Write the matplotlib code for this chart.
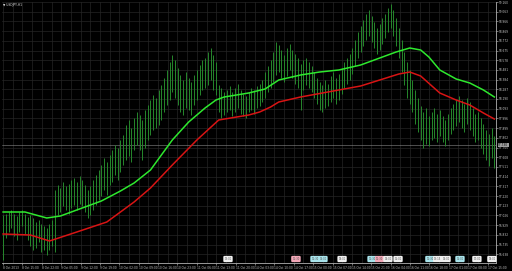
import matplotlib
matplotlib.use('Agg')
import matplotlib.pyplot as plt
import numpy as np

# USDJPY H1 - bar highs/lows
highs = [
    97.03, 97.04, 97.06, 97.08, 97.04, 97.02, 97.06, 97.08, 97.04, 97.01,
    97.03, 97.00, 96.96, 96.98, 96.94, 96.92, 96.90, 96.94, 96.98, 97.28,
    97.33, 97.30, 97.36, 97.32, 97.34, 97.38, 97.40, 97.36, 97.42, 97.38,
    97.33, 97.28, 97.32, 97.38, 97.43, 97.48, 97.53, 97.60, 97.56, 97.63,
    97.68, 97.73, 97.70, 97.78, 97.83, 97.93, 97.98, 97.90, 98.00, 98.06,
    98.03, 97.98, 98.08, 98.13, 98.18, 98.23, 98.20, 98.28, 98.33, 98.40,
    98.48, 98.56, 98.63, 98.58, 98.50, 98.43, 98.38, 98.46, 98.40, 98.36,
    98.43, 98.48, 98.53, 98.58, 98.60, 98.66, 98.70, 98.63, 98.56, 98.33,
    98.30, 98.26, 98.28, 98.32, 98.26, 98.30, 98.34, 98.28, 98.24, 98.22,
    98.26, 98.30, 98.28, 98.32, 98.34, 98.38, 98.46, 98.52, 98.58, 98.66,
    98.76, 98.73, 98.68, 98.63, 98.70, 98.74, 98.68, 98.64, 98.60, 98.54,
    98.58, 98.60, 98.56, 98.52, 98.46, 98.40, 98.36, 98.33, 98.38, 98.34,
    98.42, 98.46, 98.40, 98.44, 98.50, 98.56, 98.60, 98.64, 98.70, 98.78,
    98.86, 98.92, 98.98, 99.04, 99.08, 99.02, 98.96, 98.90, 98.94, 99.00,
    99.04, 99.10, 99.14, 99.08, 99.00, 98.90, 98.78, 98.66, 98.56, 98.48,
    98.38, 98.28, 98.20, 98.12, 98.06, 98.10, 98.02, 98.06, 98.10, 98.04,
    98.08, 98.02, 97.98, 98.04, 98.10, 98.14, 98.18, 98.22, 98.18, 98.14,
    98.20, 98.16, 98.10, 98.04, 98.06, 98.00, 97.94, 97.88, 97.84, 97.90,
    97.82,
]
lows = [
    96.58, 96.80, 96.86, 96.90, 96.82, 96.78, 96.86, 96.92, 96.84, 96.78,
    96.72, 96.68, 96.70, 96.76, 96.66, 96.68, 96.63, 96.68, 96.72, 96.66,
    97.03, 97.06, 97.12, 97.08, 97.04, 97.10, 97.13, 97.08, 97.14, 97.12,
    97.06, 97.00, 97.03, 97.08, 97.13, 97.18, 97.22, 97.28, 97.23, 97.33,
    97.36, 97.43, 97.38, 97.46, 97.53, 97.58, 97.62, 97.56, 97.68, 97.73,
    97.68, 97.58, 97.70, 97.78, 97.83, 97.88, 97.90, 97.93, 97.98, 98.06,
    98.13, 98.18, 98.26, 98.20, 98.13, 98.06, 98.03, 98.10, 98.08, 98.03,
    98.13, 98.18, 98.23, 98.28, 98.30, 98.33, 98.38, 98.28, 98.23, 98.06,
    98.00, 98.03, 98.06, 98.08, 98.02, 98.06, 98.10, 98.04, 98.02, 98.00,
    98.06, 98.08, 98.04, 98.10, 98.12, 98.16, 98.20, 98.26, 98.30, 98.36,
    98.43, 98.46, 98.40, 98.36, 98.42, 98.48, 98.40, 98.34, 98.30, 98.08,
    98.28, 98.33, 98.30, 98.26, 98.20, 98.14, 98.08, 98.06, 98.10, 98.12,
    98.16, 98.20, 98.14, 98.18, 98.24, 98.30, 98.34, 98.38, 98.44, 98.52,
    98.60, 98.66, 98.72, 98.78, 98.82, 98.76, 98.70, 98.64, 98.68, 98.74,
    98.80, 98.86, 98.90, 98.82, 98.72, 98.60, 98.46, 98.33, 98.20, 98.14,
    98.06, 97.94, 97.86, 97.78, 97.70, 97.74, 97.72, 97.78, 97.80, 97.76,
    97.82, 97.76, 97.72, 97.78, 97.84, 97.88, 97.92, 97.96, 97.90, 97.86,
    97.94, 97.88, 97.82, 97.76, 97.78, 97.70, 97.64, 97.58, 97.52, 97.60,
    97.50,
]

# moving averages (green fast, red slow), sampled at bar indices
ma_idx = [0, 8, 16, 21, 28, 36, 43, 48, 54, 62, 68, 74, 78, 81, 90, 96, 101,
          109, 116, 123, 131, 138, 144, 149, 153, 156, 160, 166, 171, 176, 180]
ma_green = [97.06, 97.06, 97.00, 97.02, 97.09, 97.17, 97.27, 97.35, 97.48,
            97.78, 97.96, 98.10, 98.18, 98.21, 98.25, 98.29, 98.38, 98.43,
            98.46, 98.48, 98.53, 98.60, 98.66, 98.70, 98.68, 98.61, 98.48,
            98.39, 98.35, 98.28, 98.21]
red_idx = [0, 10, 17, 27, 38, 48, 54, 62, 71, 79, 90, 94, 98, 101, 109, 123,
           131, 138, 145, 149, 153, 160, 166, 171, 176, 180]
ma_red = [96.84, 96.83, 96.77, 96.86, 96.96, 97.16, 97.30, 97.53, 97.78,
          97.98, 98.03, 98.06, 98.11, 98.16, 98.21, 98.28, 98.32, 98.38,
          98.44, 98.46, 98.42, 98.25, 98.18, 98.13, 98.05, 97.99]

bid_price = 97.73

price_labels = ['99.160', '99.063', '98.966', '98.869', '98.772', '98.675',
                '98.578', '98.481', '98.384', '98.287', '98.190', '98.093',
                '97.996', '97.899', '97.802', '97.705', '97.608', '97.511',
                '97.414', '97.317', '97.220', '97.123', '97.026', '96.929',
                '96.832', '96.735', '96.638']
time_labels = ['8 Oct 2013', '8 Oct 15:00', '8 Oct 22:00', '9 Oct 05:00',
               '9 Oct 12:00', '9 Oct 19:00', '10 Oct 02:00', '10 Oct 09:00',
               '10 Oct 16:00', '10 Oct 23:00', '11 Oct 06:00', '11 Oct 13:00',
               '11 Oct 20:00', '14 Oct 03:00', '14 Oct 10:00', '14 Oct 17:00',
               '15 Oct 00:00', '15 Oct 07:00', '15 Oct 14:00', '15 Oct 21:00',
               '16 Oct 04:00', '16 Oct 11:00', '16 Oct 18:00', '17 Oct 01:00',
               '17 Oct 08:00', '17 Oct 15:00']

# calendar event flags along the bottom
event_idx = [82.4, 107.3, 114.3, 117.2, 124.2, 135.2, 138.0, 141.0, 144.7,
             156.4, 159.3, 162.3, 167.4, 173.6, 179.1]
event_col = ['#f0f0f0', '#f4a8b8', '#a8e4ec', '#a8e4ec', '#f0f0f0',
             '#a8e4ec', '#f4a8b8', '#f0f0f0', '#f0f0f0', '#a8e4ec',
             '#f0f0f0', '#f0f0f0', '#a8e4ec', '#f0f0f0', '#f0f0f0']
event_txt = ['13:00', '12:30', '12:30', '14:00', '18:00', '12:30', '12:30',
             '14:00', '15:00', '12:30', '13:15', '14:00', '15:00', '17:00',
             '18:00']

W, H = 512, 271
fig = plt.figure(figsize=(W / 100, H / 100), dpi=100, facecolor='black')
ax = fig.add_axes([2 / W, 8 / H, 494 / W, 261 / H], facecolor='black')

bars = np.arange(len(highs))
ax.set_xlim(-0.4, 180.6)
ax.set_ylim(96.55, 99.16)

# faint grid, as in the terminal
ytick_vals = [float(v) for v in price_labels]
for v in ytick_vals:
    ax.axhline(v, color='#252525', lw=0.5, zorder=0)
for k in range(len(time_labels) * 2):
    ax.axvline(k * 3.55, color='#252525', lw=0.5, zorder=0)

ax.vlines(bars, lows, highs, color='#26882c', lw=0.7, zorder=2)
ax.plot(ma_idx, ma_green, color='#2ee82e', lw=1.1, zorder=3)
ax.plot(red_idx, ma_red, color='#d81414', lw=1.1, zorder=3)
ax.axhline(bid_price, color='#8c8c8c', lw=0.4, zorder=1)

for xi, c, t in zip(event_idx, event_col, event_txt):
    ax.text(xi, 96.59, t, fontsize=1.8, color='#505050', ha='center',
            va='center', zorder=4,
            bbox=dict(boxstyle='round,pad=0.45', fc=c, ec='none'))

for s in ['top', 'left']:
    ax.spines[s].set_visible(False)
for s in ['right', 'bottom']:
    ax.spines[s].set_color('#b0b0b0')
    ax.spines[s].set_linewidth(0.6)

ax.yaxis.tick_right()
ax.set_yticks(ytick_vals)
ax.set_yticklabels(price_labels)
ax.set_xticks([k * 7.1 for k in range(len(time_labels))])
ax.set_xticklabels(time_labels, ha='left')
ax.tick_params(colors='#c8c8c8', labelsize=2.1, length=1.2, width=0.4, pad=0.8)

ax.text(1.004, bid_price, '97.730', transform=ax.get_yaxis_transform(),
        fontsize=2.1, color='black', va='center', ha='left',
        bbox=dict(boxstyle='square,pad=0.15', fc='#a0a0a0', ec='none'),
        clip_on=False)
ax.text(0.003, 0.996, '\u25bc USDJPY,H1', transform=ax.transAxes, fontsize=2.2,
        color='#e0e0e0', va='top', ha='left')

fig.savefig('out.png', dpi=100, facecolor='black')
